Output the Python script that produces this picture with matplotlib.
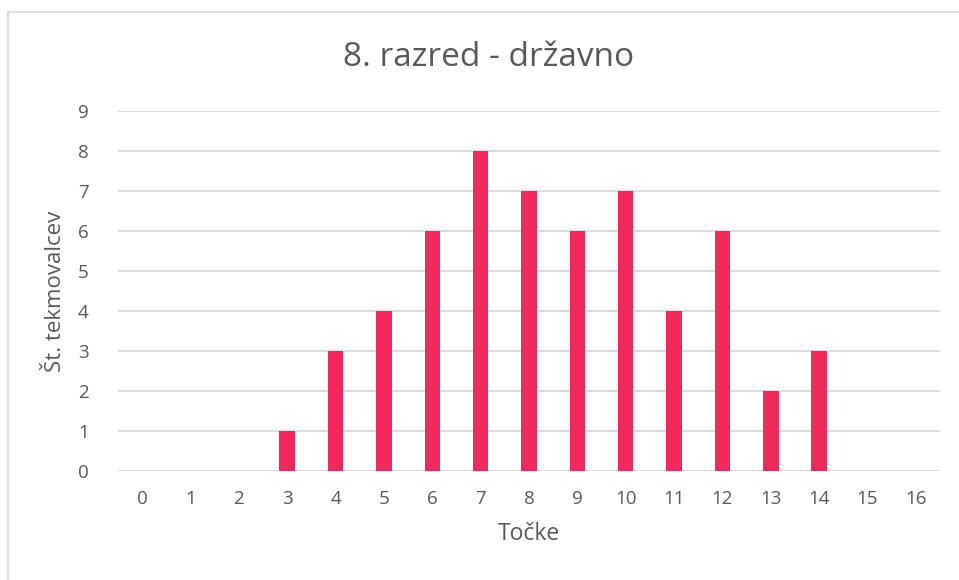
import matplotlib.pyplot as plt
from matplotlib.patches import Rectangle

# Data
tocke = list(range(17))
tekmovalci = [0, 0, 0, 1, 3, 4, 6, 8, 7, 6, 7, 4, 6, 2, 3, 0, 0]

plt.rcParams['font.family'] = ['Open Sans', 'DejaVu Sans']

W, H = 959, 580
fig = plt.figure(figsize=(W / 100, H / 100), dpi=100)

# light gray border of the chart area
fig.patches.append(Rectangle((8 / W, -0.1), 1.2, 1 - 12 / H + 0.1,
                             transform=fig.transFigure, fill=False,
                             edgecolor='#D9D9D9', linewidth=1.3))

ax = fig.add_axes([118 / W, 1 - 471 / H, (940 - 118) / W, (471 - 111) / H])
ax.bar(tocke, tekmovalci, width=0.32, color='#F0285E', zorder=3)

ax.set_xlim(-0.5, 16.5)
ax.set_ylim(0, 9)
ax.set_yticks(range(10))
ax.set_xticks(tocke)
ax.grid(axis='y', color='#D9D9D9', linewidth=1.3, zorder=0)
for s in ax.spines.values():
    s.set_visible(False)
ax.tick_params(length=0, labelsize=13.5, colors='#595959', pad=14)
ax.tick_params(axis='y', pad=21)

ax.set_ylabel('Št. tekmovalcev', fontsize=16, color='#595959', labelpad=9)
ax.set_xlabel('Točke', fontsize=16.5, color='#595959', labelpad=10)
fig.text(489 / W, 1 - 57 / H, '8. razred - državno', fontsize=24,
         color='#595959', ha='center', va='center')

fig.savefig('out.png', dpi=100)
